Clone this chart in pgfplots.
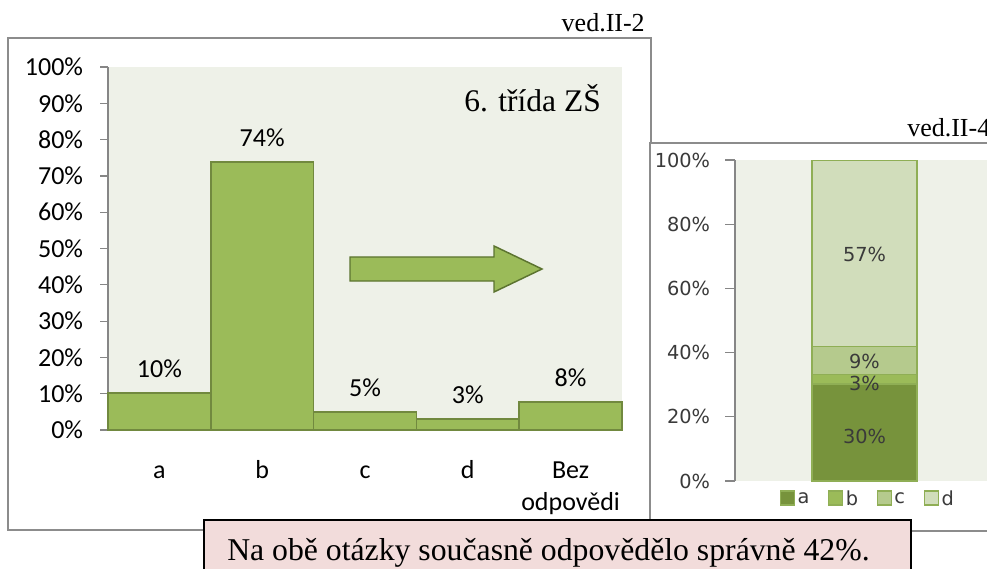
\documentclass[border=0pt]{standalone}
\usepackage{pgfplots}
\pgfplotsset{compat=1.18}
\usepackage{pgfplotstable}
\usepackage{fontspec}
\setmainfont{Liberation Serif}
\newfontfamily\calib{Carlito}
\newfontfamily\verd{DejaVu Sans}
\definecolor{barg}{HTML}{9BBB59}
\definecolor{bard}{HTML}{71893F}
\definecolor{plotbg}{HTML}{EEF1E8}
\definecolor{axgray}{HTML}{868686}
\definecolor{frgray}{HTML}{8C8C8C}
\definecolor{sa}{HTML}{77933C}
\definecolor{sb}{HTML}{9BBB59}
\definecolor{sc}{HTML}{B5CA8D}
\definecolor{sd}{HTML}{D1DDBB}
\definecolor{segd}{HTML}{8FAE55}
\definecolor{pinkbg}{HTML}{F2DCDB}
\definecolor{arrowd}{HTML}{5C7430}
\definecolor{lblgray}{HTML}{3A3A3A}
\newcommand\stt{\rule{0pt}{15pt}}
\pgfplotsset{sqlegend/.style={legend image code/.code={\draw[##1, line width=0.8pt] (0pt,-4.5pt) rectangle (10.5pt,6pt);}}}

\pgfplotstableread{
x y lab
0 10.2 10
1 73.8 74
2 5.0 5
3 3.0 3
4 7.7 8
}\leftdata

\pgfplotstableread{
x y lab
0.5 14.0 30
0.5 30.5 3
0.5 37.1 9
0.5 70.7 57
}\rightlabels

\begin{document}
\begin{tikzpicture}
\path[use as bounding box] (0pt,0pt) rectangle (740.25pt,426pt);
\clip (0pt,0pt) rectangle (740.25pt,426pt);
\begin{scope}[x=0.75pt,y=0.75pt]
\fill[white] (0,0) rectangle (987,568);
% left frame
\draw[frgray, line width=1.1pt] (8,530) rectangle (651,38);
\node[anchor=base east, inner sep=0pt, font=\fontsize{19.5}{22}\selectfont] at (645,536) {ved.II-2};
\end{scope}

\begin{axis}[
 at={(81pt,103.5pt)}, anchor=south west,
 scale only axis, width=385.5pt, height=272.25pt,
 xmin=-0.5, xmax=4.5, ymin=0, ymax=100,
 axis x line*=bottom, axis y line*=left,
 axis line style={axgray, line width=0.9pt},
 axis background/.style={fill=plotbg},
 ytick={0,10,...,100},
 yticklabels={0\%,10\%,20\%,30\%,40\%,50\%,60\%,70\%,80\%,90\%,100\%},
 ytick style={axgray, line width=0.9pt},
 tick align=outside, major tick length=6pt,
 yticklabel style={font=\calib\fontsize{19.5}{20}\selectfont, anchor=east, inner sep=0pt, xshift=-12.5pt},
 xtick={0,1,2,3,4}, xticklabels={\stt a,\stt b,\stt c,\stt d,{\stt Bez\\odpovědi}},
 xtick style={draw=none},
 xticklabel style={font=\calib\fontsize{19.5}{24}\selectfont, align=center, anchor=north, inner sep=0pt, yshift=-15pt},
 ybar, bar width=1,
 point meta=explicit,
 nodes near coords={\pgfmathprintnumber[assume math mode=true]{\pgfplotspointmeta}\%},
 every node near coord/.append style={font=\calib\fontsize{19.5}{20}\selectfont, anchor=center, yshift=18pt, black},
 clip=false,
]
\addplot[fill=barg, draw=bard, line width=1.1pt] table[x=x, y=y, meta=lab] {\leftdata};
\end{axis}

\begin{scope}[x=0.75pt,y=0.75pt]
% arrow
\filldraw[fill=barg, draw=arrowd, line width=1.1pt] (350,311) -- (494,311) -- (494,322) -- (542,299) -- (494,276) -- (494,287) -- (350,287) -- cycle;
\node[anchor=base east, inner sep=0pt, font=\fontsize{23.6}{26}\selectfont] at (601,456) {6. třída ZŠ};
% right chart frame
\filldraw[fill=white, draw=frgray, line width=1.1pt] (650,425) rectangle (1000,37);
\node[anchor=base west, inner sep=0pt, font=\fontsize{19.5}{22}\selectfont] at (907,431) {ved.II-4};
\end{scope}

\begin{axis}[
 at={(551.25pt,65.25pt)}, anchor=south west,
 scale only axis, width=194.25pt, height=240.75pt,
 xmin=0, xmax=1, ymin=0, ymax=100,
 axis x line*=bottom, axis y line*=left,
 x axis line style={draw=none},
 y axis line style={axgray, line width=0.9pt},
 axis background/.style={fill=plotbg},
 ytick={0,20,...,100},
 yticklabels={0\%,20\%,40\%,60\%,80\%,100\%},
 ytick style={axgray, line width=0.9pt},
 xtick=\empty,
 tick align=outside, major tick length=7.5pt,
 yticklabel style={font=\verd\fontsize{14.5}{16}\selectfont, text=lblgray, anchor=east, inner sep=0pt, xshift=-11pt},
 ybar stacked, bar width=0.405,
 legend columns=4,
 legend style={at={(0.514,-0.056)}, anchor=center, draw=none, fill=none,
   font=\verd\fontsize{14.5}{16}\selectfont, text=lblgray,
   /tikz/every even column/.append style={column sep=12pt}},
]
\addplot[fill=sa, draw=segd, line width=0.9pt, sqlegend] coordinates {(0.5,30.2)};
\addlegendentry{a}
\addplot[fill=sb, draw=segd, line width=0.9pt, sqlegend] coordinates {(0.5,3.1)};
\addlegendentry{b}
\addplot[fill=sc, draw=segd, line width=0.9pt, sqlegend] coordinates {(0.5,8.7)};
\addlegendentry{c}
\addplot[fill=sd, draw=segd, line width=0.9pt, sqlegend] coordinates {(0.5,58.0)};
\addlegendentry{d}
\end{axis}

\begin{axis}[
 at={(551.25pt,65.25pt)}, anchor=south west,
 scale only axis, width=194.25pt, height=240.75pt,
 xmin=0, xmax=1, ymin=0, ymax=100,
 hide axis, clip=false,
]
\addplot[only marks, mark=*, mark size=0pt, draw=none, fill=none,
  point meta=explicit,
  nodes near coords={\pgfmathprintnumber[assume math mode=true]{\pgfplotspointmeta}\%},
  every node near coord/.append style={font=\verd\fontsize{14.5}{16}\selectfont, text=lblgray, anchor=center}]
  table[x=x, y=y, meta=lab] {\rightlabels};
\end{axis}

\begin{scope}[x=0.75pt,y=0.75pt]
% note box
\filldraw[fill=pinkbg, draw=black, line width=1.1pt] (204,48) rectangle (911,-32);
\node[anchor=base west, inner sep=0pt, font=\fontsize{23.8}{28}\selectfont] at (227,8) {Na obě otázky současně odpovědělo správně 42\%.};
\end{scope}
\end{tikzpicture}
\end{document}
